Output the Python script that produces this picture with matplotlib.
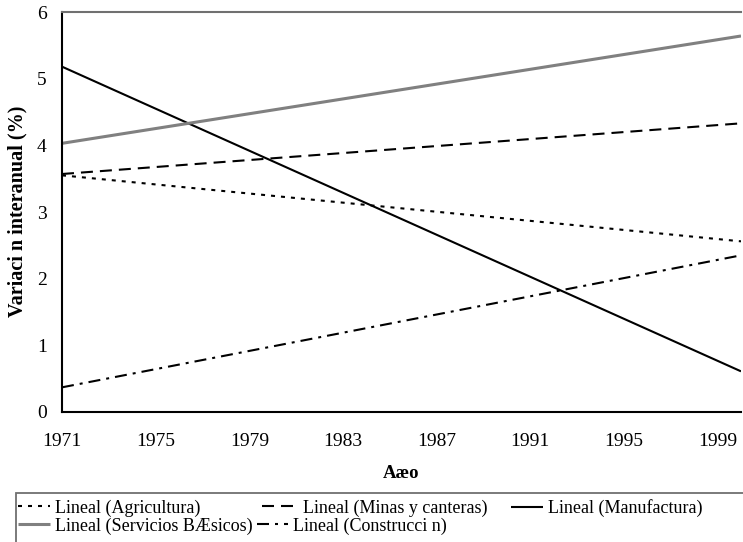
import matplotlib
matplotlib.use("Agg")
import matplotlib.pyplot as plt
from matplotlib.patches import Rectangle

plt.rcParams['font.family'] = ['Liberation Serif', 'DejaVu Serif']

# Trend-line endpoints (linear trends, 1971-2000)
years = [1971, 2000]
agricultura = [3.55, 2.56]
minas = [3.57, 4.33]
manufactura = [5.18, 0.61]
servicios = [4.03, 5.64]
construccion = [0.37, 2.35]

xticks = [1971, 1975, 1979, 1983, 1987, 1991, 1995, 1999]
yticks = [0, 1, 2, 3, 4, 5, 6]

labels = ["Lineal (Agricultura)", "Lineal (Minas y canteras)", "Lineal (Manufactura)",
          "Lineal (Servicios BÆsicos)", "Lineal (Construcci n)"]

W, H = 743, 542
fig = plt.figure(figsize=(W / 100, H / 100), dpi=100)
ax = fig.add_axes([62 / W, 1 - 412 / H, (741 - 62) / W, 400 / H])

px = 72 / 100  # points per pixel
lw = 1.5
s_agr = dict(color='black', lw=lw, linestyle=(0, (4 * px / lw, 6 * px / lw)))
s_min = dict(color='black', lw=lw, linestyle=(0, (12 * px / lw, 7 * px / lw)))
s_man = dict(color='black', lw=lw, linestyle='-')
s_ser = dict(color='#808080', lw=2.2, linestyle='-')
s_con = dict(color='black', lw=lw, linestyle=(0, (12 * px / lw, 6 * px / lw, 3 * px / lw, 6 * px / lw)))

styles = [s_agr, s_min, s_man, s_ser, s_con]
series = [agricultura, minas, manufactura, servicios, construccion]
handles = []
for vals, st, lab in zip(series, styles, labels):
    h, = ax.plot(years, vals, label=lab, solid_capstyle='butt', dash_capstyle='butt', **st)
    handles.append(h)

ax.set_xlim(1971, 2000)
ax.set_ylim(0, 6)
ax.set_xticks(xticks)
ax.set_yticks(yticks)
ax.tick_params(axis='both', length=0, labelsize=14)
ax.tick_params(axis='y', pad=11)
ax.tick_params(axis='x', pad=15)
for s in ['left', 'bottom']:
    ax.spines[s].set_color('black')
    ax.spines[s].set_linewidth(1.5)
ax.spines['top'].set_color('#707070')
ax.spines['top'].set_linewidth(1.5)
ax.spines['right'].set_visible(False)

fig.text(17 / W, 1 - 211 / H, "Variaci n interanual (%)", rotation=90,
         ha='center', va='center', fontsize=14.5, fontweight='bold')
fig.text(401 / W, 1 - 474 / H, "Aæo", ha='center', va='center',
         fontsize=13.5, fontweight='bold')

# Legend frame
fig.patches.append(Rectangle((16 / W, -0.05), 1.0, (1 - 493 / H) + 0.05,
                             transform=fig.transFigure, fill=False,
                             edgecolor='#707070', lw=1.3))

# Legend entries placed individually (Excel-style flow layout)
positions = [(18, 508), (262, 508), (511, 508), (18, 526), (257, 526)]
hlens = [32, 36, 32, 32, 31]
for h, lab, (x, y), hl in zip(handles, labels, positions, hlens):
    fig.legend([h], [lab], loc='center left', bbox_to_anchor=(x / W, 1 - y / H),
               frameon=False, fontsize=13.0, borderpad=0, borderaxespad=0,
               handlelength=hl / 18.0, handletextpad=0.25)

fig.savefig("out.png", dpi=100)
